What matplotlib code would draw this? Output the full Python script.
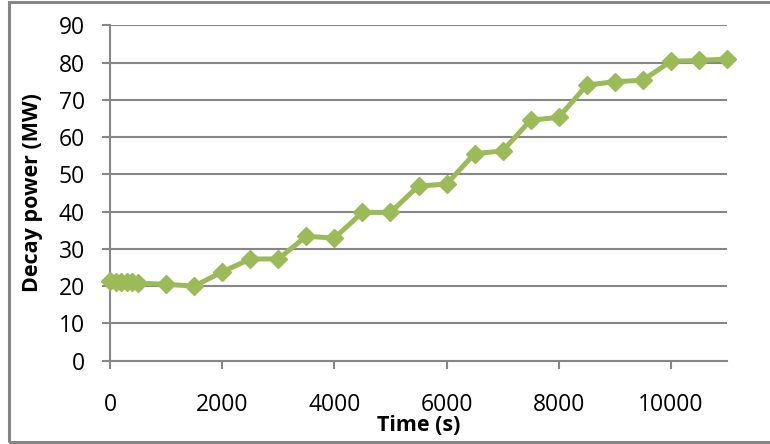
import matplotlib
matplotlib.use("Agg")
import matplotlib.pyplot as plt
from matplotlib.patches import Rectangle

# Decay power after shutdown
time_s = [0, 100, 200, 300, 400, 500, 1000, 1500, 2000, 2500, 3000, 3500, 4000,
          4500, 5000, 5500, 6000, 6500, 7000, 7500, 8000, 8500, 9000, 9500,
          10000, 10500, 11000]
power_mw = [21.5, 21.2, 21.0, 21.0, 21.0, 20.8, 20.5, 20.0, 23.8, 27.3, 27.3,
            33.4, 32.9, 39.8, 39.8, 46.9, 47.4, 55.6, 56.3, 64.6, 65.3, 74.0,
            74.9, 75.3, 80.4, 80.6, 81.0]
x_ticks = [0, 2000, 4000, 6000, 8000, 10000]
y_ticks = [0, 10, 20, 30, 40, 50, 60, 70, 80, 90]

plt.rcParams["font.family"] = ["Open Sans", "DejaVu Sans"]

W, H = 770, 444
fig = plt.figure(figsize=(W / 100, H / 100), dpi=100)
ax = fig.add_axes([110 / W, 1 - 360.6 / H, (727 - 110) / W, (360.6 - 25.5) / H])

grey = "#868686"
green = "#9BBB59"

ax.plot(time_s, power_mw, color=green, lw=3.6, marker="D", ms=9.2,
        mec=green, mfc=green, solid_joinstyle="miter", zorder=3, clip_on=False)

ax.set_xlim(0, 11000)
ax.set_ylim(0, 90)
ax.set_xticks(x_ticks)
ax.set_yticks(y_ticks)
ax.yaxis.grid(True, color=grey, lw=1.5)
ax.set_axisbelow(True)

for side in ("top", "right"):
    ax.spines[side].set_visible(False)
for side in ("left", "bottom"):
    ax.spines[side].set_color(grey)
    ax.spines[side].set_linewidth(1.5)

ax.tick_params(axis="both", colors=grey, width=1.5, length=6, labelcolor="black",
               labelsize=16.5)
ax.tick_params(axis="x", pad=17)
ax.tick_params(axis="y", pad=12)

ax.set_xlabel("Time (s)", fontsize=15.5, fontweight="bold", labelpad=-1)
ax.set_ylabel("Decay power (MW)", fontsize=15.5, fontweight="bold", labelpad=11)

# outer chart frame
fig.patches.append(Rectangle((8.5 / W, 2 / H), 1.0, 1 - 4 / H, transform=fig.transFigure,
                             fill=False, edgecolor=grey, lw=2.2))

fig.savefig("out.png", dpi=100)
